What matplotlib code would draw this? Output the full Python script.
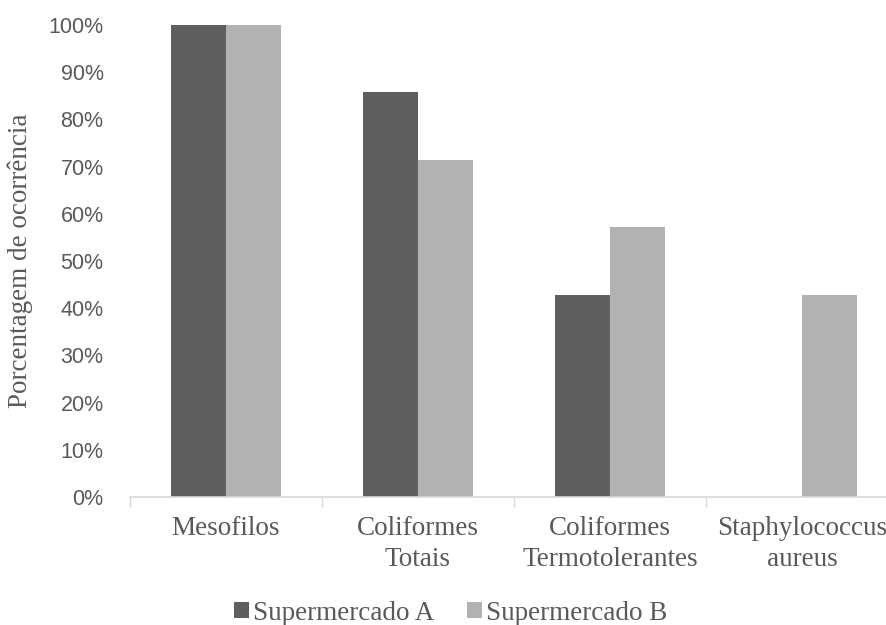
import matplotlib.pyplot as plt
import numpy as np
from matplotlib.ticker import FuncFormatter

# Datos del gráfico
categorias = ["Mesofilos", "Coliformes\nTotais", "Coliformes\nTermotolerantes", "Staphylococcus\naureus"]
super_a = [100.0, 85.7, 42.9, 0.0]
super_b = [100.0, 71.4, 57.1, 42.9]
series = ["Supermercado A", "Supermercado B"]

cor_a = "#5f5f5f"
cor_b = "#b2b2b2"
cor_texto = "#595959"
serif = "Liberation Serif"

fig = plt.figure(figsize=(8.87, 6.25), dpi=100)
ax = fig.add_axes([130 / 887, 1 - 497 / 625, 768 / 887, (497 - 25) / 625])

x = np.arange(len(categorias))
larg = 0.286
b1 = ax.bar(x - larg / 2, super_a, larg, color=cor_a, label=series[0])
b2 = ax.bar(x + larg / 2, super_b, larg, color=cor_b, label=series[1])

ax.set_xlim(-0.5, len(categorias) - 0.5)
ax.set_ylim(0, 100)
ax.set_yticks(np.arange(0, 101, 10))
ax.yaxis.set_major_formatter(FuncFormatter(lambda v, p: f"{int(v)}%"))
ax.tick_params(axis="y", length=0, pad=19, labelsize=15.5, labelcolor=cor_texto)
for lb in ax.get_yticklabels():
    lb.set_fontfamily("Liberation Sans")

# eje x: etiquetas en el centro, marcas en los límites
ax.set_xticks(x)
ax.set_xticklabels(categorias, fontfamily=serif, fontsize=19.5, color=cor_texto,
                   linespacing=1.3)
ax.tick_params(axis="x", which="major", length=0, pad=14)
ax.set_xticks(np.arange(-0.5, len(categorias), 1), minor=True)
ax.tick_params(axis="x", which="minor", length=7, width=1, color="#d9d9d9")

for lado in ["top", "right", "left"]:
    ax.spines[lado].set_visible(False)
ax.spines["bottom"].set_color("#d9d9d9")
ax.spines["bottom"].set_linewidth(1.2)

fig.text(20 / 887, 1 - 261 / 625, "Porcentagem de ocorrência", rotation=90,
         ha="center", va="center", fontfamily=serif, fontsize=19.5, color=cor_texto)

fig.legend(handles=[b1, b2], loc="center", bbox_to_anchor=(451 / 887, 12 / 625),
           ncol=2, frameon=False, handlelength=0.55, handleheight=0.55,
           handletextpad=0.15, columnspacing=1.2,
           prop={"family": serif, "size": 19.5}, labelcolor=cor_texto)

plt.savefig("out.png", dpi=100)
